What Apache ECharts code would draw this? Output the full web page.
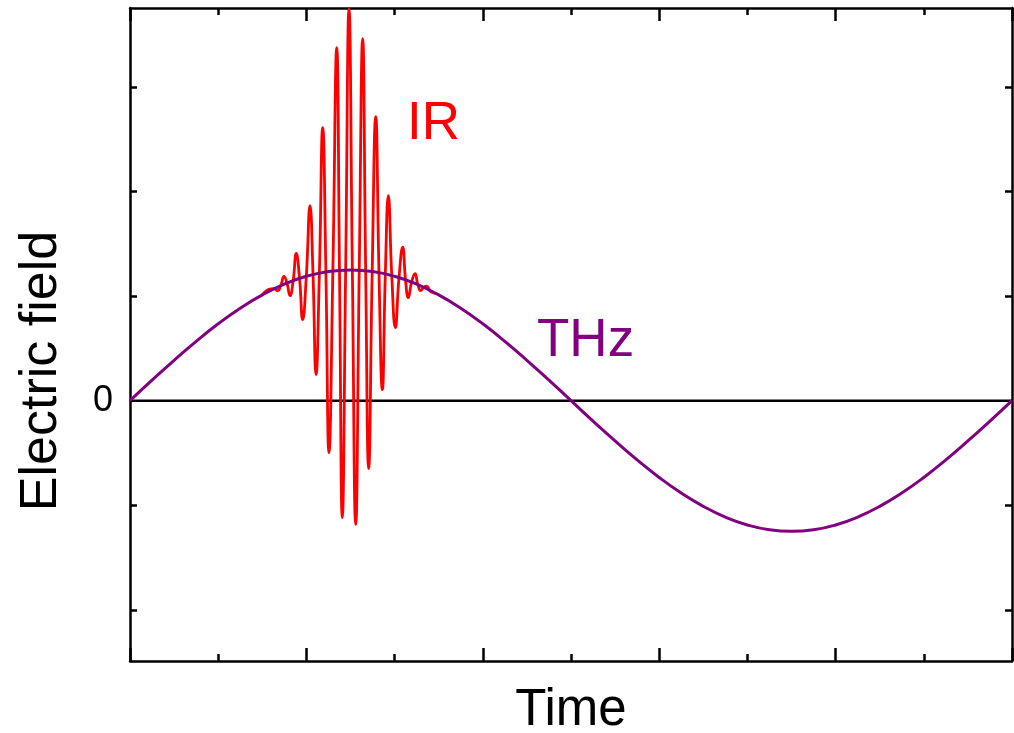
<!DOCTYPE html>
<html>
<head>
<meta charset="utf-8">
<script src="https://cdn.jsdelivr.net/npm/echarts@6/dist/echarts.min.js"></script>
<style>
html,body{margin:0;padding:0;background:#fff;}
#chart{width:1014px;height:733px;}
</style>
</head>
<body>
<div id="chart"></div>
<script>
// ---- data ----
const thzTime = [0,0.25,0.5,0.75,1,1.25,1.5,1.75,2,2.25,2.5,2.75,3,3.25,3.5,3.75,4,4.25,4.5,4.75,5,5.25,5.5,5.75,6,6.25,6.5,6.75,7,7.25,7.5,7.75,8,8.25,8.5,8.75,9,9.25,9.5,9.75,10];
const thzField = [0,0.196,0.386,0.567,0.735,0.884,1.011,1.114,1.189,1.235,1.25,1.235,1.189,1.114,1.011,0.884,0.735,0.567,0.386,0.196,0,-0.196,-0.386,-0.567,-0.735,-0.884,-1.011,-1.114,-1.189,-1.235,-1.25,-1.235,-1.189,-1.114,-1.011,-0.884,-0.735,-0.567,-0.386,-0.196,0];

const irTime = [1.497,1.599,1.635,1.672,1.709,1.746,1.780,1.814,1.850,1.885,1.922,1.958,1.999,2.041,2.075,2.109,2.147,2.185,2.221,2.256,2.300,2.344,2.375,2.407,2.445,2.483,2.521,2.559,2.599,2.638,2.672,2.706,2.746,2.786,2.823,2.861,2.895,2.929,2.968,3.008,3.050,3.092,3.124,3.155,3.193,3.231,3.264,3.296,3.330,3.364,3.394,3.424,3.481];
const irField = [1.010,1.069,1.070,1.051,1.099,1.188,1.124,1.004,1.147,1.408,1.169,0.774,1.189,1.864,1.206,0.249,1.220,2.610,1.231,-0.497,1.240,3.375,1.246,-1.119,1.249,3.748,1.250,-1.185,1.248,3.461,1.243,-0.650,1.235,2.715,1.225,0.105,1.212,1.960,1.196,0.698,1.176,1.468,1.155,0.985,1.133,1.214,1.109,1.052,1.084,1.095,1.058,1.036,1.021];

const zeroTime = [0, 10];
const zeroField = [0, 0];

const yTickValues = [-2, -1, 1, 2, 3];
const yLabelValues = [0];
const xRange = [0, 10];
const yRange = [-2.49, 3.755];

// ---- build ----
const pair = (xs, ys) => xs.map((x, i) => [x, ys[i]]);
const FONT = '"Liberation Sans", Arial, sans-serif';

const xAxisBase = (pos) => ({
  type: 'value', position: pos, min: xRange[0], max: xRange[1], interval: 2,
  axisLine: {show: true, onZero: false, lineStyle: {color: '#000', width: 2.5}},
  axisTick: {show: true, inside: true, length: 13, lineStyle: {color: '#000', width: 2.5}},
  minorTick: {show: true, splitNumber: 2, length: 7, lineStyle: {color: '#000', width: 2.5}},
  axisLabel: {show: false},
  splitLine: {show: false},
  minorSplitLine: {show: false}
});
const yAxisBase = (pos, showLabel) => ({
  type: 'value', position: pos, min: yRange[0], max: yRange[1],
  axisLine: {show: true, onZero: false, lineStyle: {color: '#000', width: 2.5}},
  axisTick: {show: true, inside: true, length: 7, customValues: yTickValues, lineStyle: {color: '#000', width: 2.5}},
  axisLabel: {show: showLabel, customValues: yLabelValues, margin: 17, color: '#000', fontSize: 36, fontFamily: FONT, formatter: v => String(v)},
  splitLine: {show: false}
});

const chart = echarts.init(document.getElementById('chart'), null, {renderer: 'canvas'});
chart.setOption({
  animation: false,
  backgroundColor: '#fff',
  grid: {left: 130, right: 2, top: 8, bottom: 72, containLabel: false},
  xAxis: [xAxisBase('bottom'), xAxisBase('top')],
  yAxis: [yAxisBase('left', true), yAxisBase('right', false)],
  series: [
    {name: 'zero', type: 'line', data: pair(zeroTime, zeroField), showSymbol: false, symbol: 'none',
     lineStyle: {color: '#000', width: 2.5}, z: 2},
    {name: 'IR', type: 'line', data: pair(irTime, irField), smooth: 0.5, showSymbol: false, symbol: 'none',
     clip: true, lineStyle: {color: '#ff0000', width: 2.8}, z: 3},
    {name: 'THz', type: 'line', data: pair(thzTime, thzField), smooth: true, showSymbol: false, symbol: 'none',
     lineStyle: {color: '#800080', width: 3}, z: 4}
  ],
  graphic: [
    {type: 'text', x: 42, y: 371, rotation: Math.PI / 2,
     style: {text: 'Electric field', font: '52px ' + FONT, fill: '#000', textAlign: 'center', textVerticalAlign: 'middle'}},
    {type: 'text', x: 571, y: 711,
     style: {text: 'Time', font: '51px ' + FONT, fill: '#000', textAlign: 'center', textVerticalAlign: 'middle'}},
    {type: 'text', x: 407, y: 124,
     style: {text: 'IR', font: '53px ' + FONT, fill: '#ff0000', textAlign: 'left', textVerticalAlign: 'middle'}},
    {type: 'text', x: 537, y: 341,
     style: {text: 'THz', font: '53px ' + FONT, fill: '#800080', textAlign: 'left', textVerticalAlign: 'middle'}}
  ]
});
</script>
</body>
</html>
